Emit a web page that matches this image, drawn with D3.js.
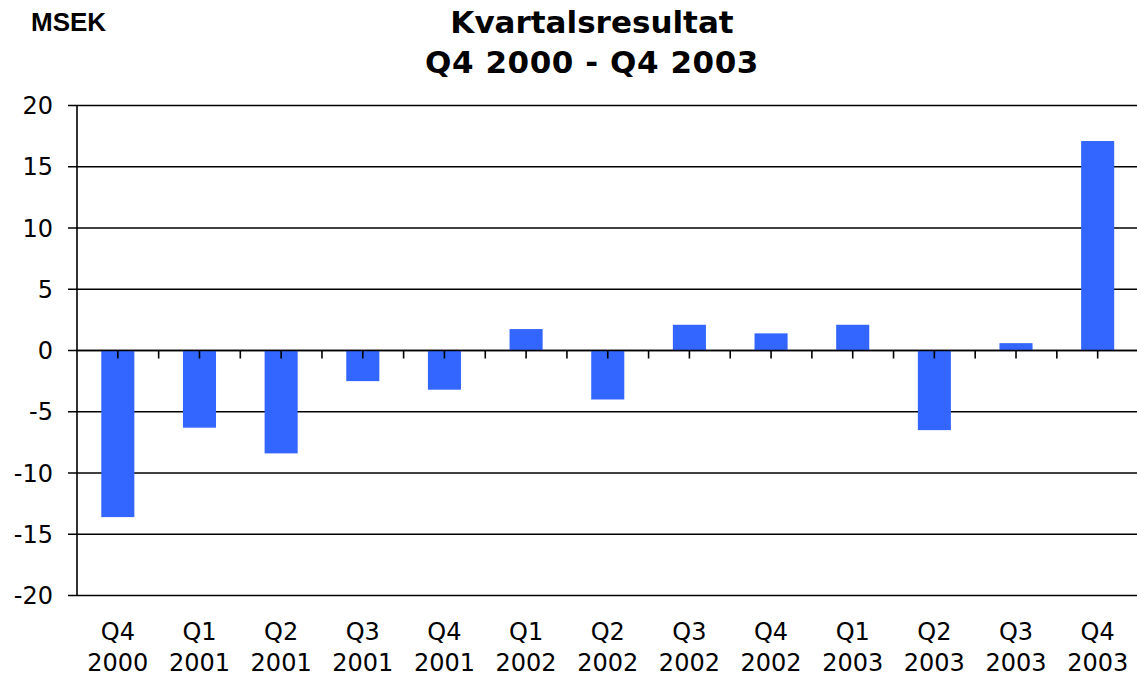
<!DOCTYPE html>
<html>
<head>
<meta charset="utf-8">
<script src="https://cdn.jsdelivr.net/npm/d3@7"></script>
<style>
  body { margin: 0; background: #fff; }
</style>
</head>
<body>
<div id="chart"></div>
<script>
  const quarters = ["Q4", "Q1", "Q2", "Q3", "Q4", "Q1", "Q2", "Q3", "Q4", "Q1", "Q2", "Q3", "Q4"];
  const years = ["2000", "2001", "2001", "2001", "2001", "2002", "2002", "2002", "2002", "2003", "2003", "2003", "2003"];
  const results = [-13.6, -6.3, -8.4, -2.5, -3.2, 1.75, -4.0, 2.1, 1.4, 2.1, -6.5, 0.6, 17.1];
  const yTicks = [-20, -15, -10, -5, 0, 5, 10, 15, 20];

  const width = 1137;
  const height = 677;
  const margin = { top: 105.5, right: 0, bottom: 81.5, left: 77 };

  const data = quarters.map((q, i) => ({ key: i, q, year: years[i], value: results[i] }));

  const svg = d3.select("#chart").append("svg")
    .attr("width", width)
    .attr("height", height);

  const x = d3.scaleBand()
    .domain(data.map(d => d.key))
    .range([margin.left, 1138.5])
    .paddingInner(0.595)
    .paddingOuter(0.2975);

  const y = d3.scaleLinear()
    .domain([-20, 20])
    .range([height - margin.bottom, margin.top]);

  // gridlines
  svg.append("g")
    .selectAll("line")
    .data(yTicks)
    .join("line")
    .attr("x1", margin.left - 9)
    .attr("x2", width)
    .attr("y1", d => y(d))
    .attr("y2", d => y(d))
    .attr("stroke", "#000")
    .attr("stroke-width", 1.6);

  // y labels
  svg.append("g")
    .selectAll("text")
    .data(yTicks)
    .join("text")
    .attr("x", 53)
    .attr("y", d => y(d))
    .attr("dy", "0.36em")
    .attr("text-anchor", "end")
    .style("font-family", "DejaVu Sans, Verdana, sans-serif")
    .style("font-size", "24px")
    .attr("fill", "#000")
    .text(d => d);

  // bars
  svg.append("g")
    .selectAll("rect")
    .data(data)
    .join("rect")
    .attr("x", d => x(d.key))
    .attr("width", x.bandwidth())
    .attr("y", d => y(Math.max(0, d.value)))
    .attr("height", d => Math.abs(y(d.value) - y(0)))
    .attr("fill", "#3366FF");

  // zero line redrawn above bars with half-step ticks
  const step = x.step();
  const halfTicks = d3.range(1, data.length * 2 + 1).map(i => x(0) - step * x.paddingOuter() + i * step / 2);
  svg.append("line")
    .attr("x1", margin.left)
    .attr("x2", width)
    .attr("y1", y(0))
    .attr("y2", y(0))
    .attr("stroke", "#000")
    .attr("stroke-width", 1.6);
  svg.append("g")
    .selectAll("line")
    .data(halfTicks)
    .join("line")
    .attr("x1", d => d)
    .attr("x2", d => d)
    .attr("y1", y(0))
    .attr("y2", y(0) + 8)
    .attr("stroke", "#000")
    .attr("stroke-width", 1.6);

  // y axis line
  svg.append("line")
    .attr("x1", margin.left)
    .attr("x2", margin.left)
    .attr("y1", y(20))
    .attr("y2", y(-20))
    .attr("stroke", "#000")
    .attr("stroke-width", 1.6);

  // x labels
  const xLabels = svg.append("g")
    .selectAll("text")
    .data(data)
    .join("text")
    .attr("text-anchor", "middle")
    .style("font-family", "DejaVu Sans, Verdana, sans-serif")
    .style("font-size", "24px")
    .attr("fill", "#000");
  xLabels.append("tspan")
    .attr("x", d => x(d.key) + x.bandwidth() / 2)
    .attr("y", 640)
    .text(d => d.q);
  xLabels.append("tspan")
    .attr("x", d => x(d.key) + x.bandwidth() / 2)
    .attr("y", 671)
    .text(d => d.year);

  // titles
  svg.append("text")
    .attr("x", 31)
    .attr("y", 31)
    .style("font-family", "Liberation Sans, Arial, sans-serif")
    .style("font-weight", "bold")
    .style("font-size", "26px")
    .text("MSEK");

  const title = svg.append("text")
    .attr("text-anchor", "middle")
    .style("font-family", "DejaVu Sans, Verdana, sans-serif")
    .style("font-weight", "bold")
    .style("font-size", "31px");
  title.append("tspan").attr("x", 592).attr("y", 33).text("Kvartalsresultat");
  title.append("tspan").attr("x", 592).attr("y", 73)
    .style("letter-spacing", "0.55px")
    .text("Q4 2000 - Q4 2003");
</script>
</body>
</html>
